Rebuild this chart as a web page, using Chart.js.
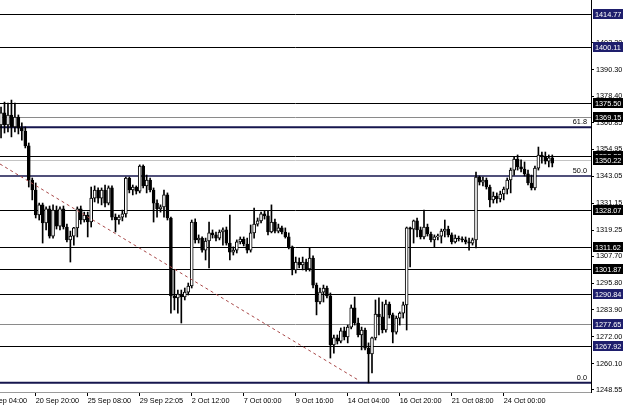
<!DOCTYPE html>
<html>
<head>
<meta charset="utf-8">
<script src="https://cdn.jsdelivr.net/npm/chart.js@4.4.0/dist/chart.umd.min.js"></script>
<style>
html, body { margin: 0; padding: 0; background: #fff; }
#wrap { width: 625px; height: 407px; }
</style>
</head>
<body>
<div id="wrap"><canvas id="chart" width="625" height="407"></canvas></div>
<script>
// gold H4, 19 Sep - 28 Oct
var opens = [1365.8,1371.1,1365.8,1370.2,1364.9,1369.3,1364.4,1363.1,1356.5,1341.4,
  1337.0,1325.9,1330.4,1322.4,1328.6,1316.6,1328.1,1321.0,1328.6,1320.6,
  1314.9,1316.6,1320.2,1328.6,1323.7,1325.9,1322.8,1333.4,1337.0,1333.4,
  1337.0,1331.2,1337.9,1325.0,1323.7,1325.0,1326.4,1342.3,1337.0,1338.3,
  1336.5,1347.6,1338.8,1341.4,1337.0,1331.2,1328.6,1329.5,1334.8,1324.6,
  1290.1,1289.2,1290.9,1289.6,1291.8,1294.5,1322.8,1314.9,1315.7,1310.4,
  1314.4,1318.0,1317.1,1315.7,1318.4,1319.3,1313.5,1309.5,1310.4,1314.0,
  1315.3,1313.1,1310.4,1318.0,1321.9,1323.3,1326.4,1325.5,1318.4,1322.8,
  1318.8,1320.2,1318.4,1316.2,1311.8,1301.6,1305.1,1303.8,1305.1,1302.0,
  1306.9,1294.9,1287.4,1291.8,1293.6,1290.1,1268.4,1271.5,1270.1,1274.6,
  1271.9,1276.3,1284.8,1278.1,1272.8,1275.0,1267.0,1264.4,1271.5,1282.1,
  1280.8,1275.0,1286.5,1281.7,1274.1,1280.3,1282.5,1286.1,1320.2,1319.7,
  1323.3,1319.3,1316.2,1320.6,1317.5,1314.9,1316.2,1316.6,1318.8,1319.7,
  1317.1,1314.0,1315.7,1315.3,1314.9,1314.0,1313.5,1314.9,1342.7,1340.5,
  1341.4,1338.3,1332.6,1334.3,1333.0,1335.2,1337.4,1341.4,1345.8,1350.7,
  1347.2,1346.3,1344.1,1340.1,1337.9,1346.7,1352.5,1351.6,1349.8,1351.2];
var highs = [1373.7,1375.9,1375.5,1376.8,1375.5,1370.2,1366.7,1364.9,1357.8,1342.3,
  1340.1,1331.2,1331.2,1329.5,1329.9,1330.4,1329.9,1329.5,1329.9,1321.9,
  1318.8,1320.5,1329.5,1329.9,1327.2,1327.2,1338.3,1338.8,1337.9,1337.9,
  1339.2,1338.8,1338.8,1326.4,1325.9,1328.1,1342.7,1342.7,1339.2,1338.8,
  1348.1,1348.1,1343.6,1342.3,1337.9,1332.6,1330.4,1337.0,1335.7,1325.0,
  1301.6,1292.7,1292.7,1293.6,1295.8,1323.7,1324.2,1317.1,1316.2,1315.7,
  1322.8,1319.3,1318.4,1319.3,1320.2,1320.6,1325.9,1311.8,1314.9,1316.2,
  1316.2,1315.7,1321.5,1329.0,1324.6,1327.2,1327.7,1327.7,1330.4,1324.1,
  1321.9,1321.0,1320.2,1318.0,1312.2,1307.3,1306.9,1307.3,1306.4,1311.3,
  1307.8,1295.8,1293.6,1294.9,1294.5,1291.4,1272.8,1272.8,1275.9,1276.3,
  1277.2,1286.1,1289.6,1280.3,1276.3,1275.9,1269.3,1271.9,1288.3,1289.2,
  1287.4,1288.3,1287.4,1282.5,1281.2,1283.0,1287.4,1320.6,1320.6,1323.7,
  1324.6,1320.6,1328.1,1321.9,1318.4,1317.1,1317.5,1319.7,1323.7,1321.0,
  1318.0,1317.1,1316.6,1316.2,1316.2,1315.7,1315.7,1344.9,1343.2,1342.7,
  1342.3,1339.2,1336.1,1335.7,1336.5,1338.3,1342.3,1346.7,1351.6,1352.5,
  1350.3,1349.4,1345.8,1343.6,1347.6,1356.0,1353.8,1353.8,1352.5,1352.5];
var lows = [1360.0,1362.2,1362.7,1360.5,1362.7,1361.8,1359.1,1355.6,1338.3,1332.6,
  1324.6,1323.7,1313.5,1319.3,1315.7,1315.7,1319.7,1319.3,1319.7,1314.0,
  1305.1,1312.6,1316.2,1321.9,1322.8,1316.2,1320.6,1331.7,1331.2,1330.4,
  1329.5,1330.4,1323.7,1318.4,1321.9,1323.3,1325.0,1335.7,1334.8,1335.2,
  1335.7,1337.9,1335.7,1336.1,1322.8,1325.0,1327.2,1325.0,1323.7,1282.5,
  1283.9,1282.5,1278.1,1288.3,1290.5,1293.6,1313.5,1313.5,1309.5,1306.0,
  1302.5,1315.7,1314.4,1314.9,1312.6,1312.6,1306.0,1308.2,1309.1,1313.1,
  1312.2,1309.1,1309.5,1315.7,1321.0,1322.4,1324.1,1317.1,1318.0,1318.0,
  1318.0,1317.5,1315.7,1310.9,1299.4,1300.2,1302.5,1301.6,1301.1,1301.1,
  1293.6,1281.7,1286.5,1287.4,1289.2,1262.6,1264.8,1268.8,1269.3,1270.6,
  1269.3,1275.5,1277.2,1271.9,1266.2,1266.2,1251.6,1256.0,1270.6,1272.8,
  1273.7,1274.1,1280.3,1269.3,1273.2,1277.2,1280.3,1275.0,1302.9,1313.5,
  1316.2,1315.3,1315.3,1316.6,1314.0,1311.8,1314.9,1313.5,1316.2,1316.2,
  1313.1,1313.5,1314.4,1314.0,1313.1,1310.4,1312.6,1311.3,1339.2,1338.8,
  1337.4,1329.5,1331.2,1331.2,1331.7,1332.6,1335.2,1335.7,1343.6,1345.8,
  1345.0,1343.2,1339.2,1337.0,1337.0,1345.8,1348.9,1348.5,1347.2,1347.2];
var closes = [1371.1,1365.8,1370.2,1364.9,1369.3,1364.4,1363.1,1356.5,1341.4,1337.0,
  1325.9,1330.4,1322.4,1328.6,1316.6,1328.1,1321.0,1328.6,1320.6,1314.9,
  1316.6,1320.2,1328.6,1323.7,1325.9,1322.8,1333.4,1337.0,1333.4,1337.0,
  1331.2,1337.9,1325.0,1323.7,1325.0,1326.4,1342.3,1337.0,1338.3,1336.5,
  1347.6,1338.8,1341.4,1337.0,1331.2,1328.6,1329.5,1334.8,1324.6,1290.1,
  1289.2,1290.9,1289.6,1291.8,1294.5,1322.8,1314.9,1315.7,1310.4,1314.4,
  1318.0,1317.1,1315.7,1318.4,1319.3,1313.5,1309.5,1310.4,1314.0,1315.3,
  1313.1,1310.4,1318.0,1321.9,1323.3,1326.4,1325.5,1318.4,1322.8,1318.8,
  1320.2,1318.4,1316.2,1311.8,1301.6,1305.1,1303.8,1305.1,1302.0,1306.9,
  1294.9,1287.4,1291.8,1293.6,1290.1,1268.4,1271.5,1270.1,1274.6,1271.9,
  1276.3,1284.8,1278.1,1272.8,1275.0,1267.0,1264.4,1271.5,1282.1,1280.8,
  1275.0,1286.5,1281.7,1274.1,1280.3,1282.5,1286.1,1320.2,1319.7,1323.3,
  1319.3,1316.2,1320.6,1317.5,1314.9,1316.2,1316.6,1318.8,1319.7,1317.1,
  1314.0,1315.7,1315.3,1314.9,1314.0,1313.5,1314.9,1342.7,1340.5,1341.4,
  1338.3,1332.6,1334.3,1333.0,1335.2,1337.4,1341.4,1345.8,1350.7,1347.2,
  1346.3,1344.1,1340.1,1337.9,1346.7,1352.5,1351.6,1349.8,1351.2,1348.9];

var timeTicks = [-5, 10, 25, 40, 55, 70, 85, 100, 115, 130, 145];
var timeLabels = ['18 Sep 04:00', '20 Sep 20:00', '25 Sep 08:00', '29 Sep 22:05', '2 Oct 12:00',
  '7 Oct 00:00', '9 Oct 16:00', '14 Oct 04:00', '16 Oct 20:00', '21 Oct 08:00', '24 Oct 00:00'];
var priceTicks = [1248.55, 1260.10, 1272.00, 1283.90, 1295.80, 1307.70, 1319.25, 1331.15,
  1343.05, 1354.95, 1366.85, 1378.40, 1390.30, 1402.20];

// horizontal levels drawn on the chart
var levels = [1414.77, 1400.11, 1375.50, 1369.15, 1352.22, 1350.22, 1328.07, 1311.62, 1301.87, 1290.84, 1277.65, 1267.92];
var fibLow = 1251.6, fibHigh = 1434.8;
var fibRatios = [0.0, 50.0, 61.8];
// dashed trend line
var trendX = [-0.3, 103.0];
var trendY = [1348.5, 1252.9];

// styles
var levelLineColor = ['#000', '#000', '#000', '#8a8a8a', '#000', '#c4c4c4', '#000', '#000', '#000', '#000', '#8a8a8a', '#000'];
var levelBoxColor = ['#1e1e6c', '#1e1e6c', '#000', '#000', '#000', '#000', '#000', '#000', '#000', '#1e1e6c', '#1e1e6c', '#1e1e6c'];
var fibWidth = [2, 1.5, 2];
var smallFont = '7.3px "Liberation Sans"';

var wicks = [], bodies = [], bodyFill = [];
opens.forEach(function(o, i) {
  wicks.push({x: i, y: [lows[i], highs[i]]});
  bodies.push({x: i, y: [o, closes[i]]});
  bodyFill.push(closes[i] >= o ? '#ffffff' : '#000000');
});
var trend = trendX.map(function(x, k) { return {x: x, y: trendY[k]}; });

var levelsPlugin = {
  id: 'levels',
  beforeDatasetsDraw: function(chart) {
    var ctx = chart.ctx, a = chart.chartArea, ys = chart.scales.y;
    ctx.save();
    ctx.beginPath();
    ctx.rect(a.left, a.top, a.right - a.left, a.bottom - a.top);
    ctx.clip();
    levels.forEach(function(v, k) {
      var py = Math.round(ys.getPixelForValue(v)) + 0.5;
      ctx.strokeStyle = levelLineColor[k];
      ctx.lineWidth = 1;
      ctx.beginPath();
      ctx.moveTo(a.left, py);
      ctx.lineTo(a.right, py);
      ctx.stroke();
    });
    fibRatios.forEach(function(r, k) {
      var py = ys.getPixelForValue(fibLow + (fibHigh - fibLow) * r / 100);
      ctx.strokeStyle = '#16164e';
      ctx.lineWidth = fibWidth[k];
      ctx.beginPath();
      ctx.moveTo(a.left, py);
      ctx.lineTo(a.right, py);
      ctx.stroke();
    });
    ctx.restore();
  },
  afterDraw: function(chart) {
    var ctx = chart.ctx, a = chart.chartArea, ys = chart.scales.y;
    ctx.save();
    ctx.font = smallFont;
    // fib labels
    ctx.fillStyle = '#000';
    ctx.textAlign = 'right';
    ctx.textBaseline = 'bottom';
    fibRatios.forEach(function(r) {
      var py = ys.getPixelForValue(fibLow + (fibHigh - fibLow) * r / 100);
      ctx.fillText(r.toFixed(1), a.right - 4, py - 1);
    });
    // price boxes on the right scale
    ctx.textAlign = 'left';
    ctx.textBaseline = 'middle';
    levels.forEach(function(v, k) {
      var py = Math.round(ys.getPixelForValue(v));
      ctx.fillStyle = levelBoxColor[k];
      ctx.fillRect(a.right + 2, py - 5, 30, 10);
      ctx.fillStyle = '#fff';
      ctx.fillText(v.toFixed(2), a.right + 4, py + 0.5);
    });
    ctx.restore();
  }
};

new Chart(document.getElementById('chart'), {
  type: 'bar',
  data: {
    datasets: [
      { type: 'line', data: trend, borderColor: '#a84848', borderWidth: 1, borderDash: [3, 3],
        pointRadius: 0, order: 0 },
      { data: bodies, backgroundColor: bodyFill, borderColor: '#000', borderWidth: 1,
        borderSkipped: false, barThickness: 3, minBarLength: 1, grouped: false, order: 1 },
      { data: wicks, backgroundColor: '#000', barThickness: 1, grouped: false, order: 2 }
    ]
  },
  options: {
    responsive: false,
    animation: false,
    devicePixelRatio: 1,
    layout: { padding: 0, autoPadding: false },
    plugins: { legend: { display: false }, tooltip: { enabled: false } },
    scales: {
      x: {
        type: 'linear', min: -0.3, max: 170.17, offset: false,
        grid: { drawOnChartArea: false, offset: false, tickLength: 4, color: '#000' },
        border: { display: true, color: '#9a9a9a' },
        afterBuildTicks: function(s) { s.ticks = timeTicks.map(function(v) { return {value: v}; }); },
        afterFit: function(s) { s.height = 15; s.paddingLeft = 0; s.paddingRight = 0; },
        ticks: {
          autoSkip: false, maxRotation: 0, align: 'start', padding: 1, color: '#000',
          font: { family: 'Liberation Sans', size: 7.3 },
          callback: function(v) { var k = timeTicks.indexOf(v); return k < 0 ? '' : timeLabels[k]; }
        }
      },
      y: {
        position: 'right', min: 1247.56, max: 1421.10,
        grid: { drawOnChartArea: false, tickLength: 3, color: '#000' },
        border: { display: true, color: '#000' },
        afterBuildTicks: function(s) { s.ticks = priceTicks.map(function(v) { return {value: v}; }); },
        afterFit: function(s) { s.width = 34; s.paddingTop = 0; s.paddingBottom = 0; },
        ticks: {
          padding: 2, color: '#000',
          font: { family: 'Liberation Sans', size: 7.3 },
          callback: function(v) { return Number(v).toFixed(2); }
        }
      }
    }
  },
  plugins: [levelsPlugin]
});
</script>
</body>
</html>
